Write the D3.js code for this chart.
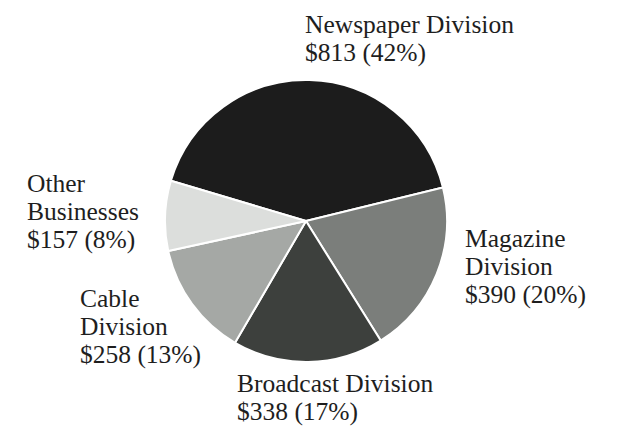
<!DOCTYPE html>
<html>
<head>
<meta charset="utf-8">
<script src="https://cdn.jsdelivr.net/npm/d3@7"></script>
<style>
  body { margin: 0; background: #fff; }
  svg { display: block; }
</style>
</head>
<body>
<svg width="618" height="427"></svg>
<script>
// division revenue, clockwise from the top-left
var divisions = ['Newspaper Division', 'Magazine Division', 'Broadcast Division', 'Cable Division', 'Other Businesses'];
var revenue = [813, 390, 338, 258, 157];
var percents = [42, 20, 17, 13, 8];
// how each label is broken into lines
var labelLines = [
    ['Newspaper Division'],
    ['Magazine', 'Division'],
    ['Broadcast Division'],
    ['Cable', 'Division'],
    ['Other', 'Businesses']
];
var sliceColors = ['#1c1c1c', '#7b7e7b', '#3d403d', '#a5a8a5', '#dcdedc'];

var svg = d3.select('svg');

var cx = 306, cy = 221, radius = 141;
var startAngle = -73.4 * Math.PI / 180;

var pie = d3.pie()
    .sort(null)
    .startAngle(startAngle)
    .endAngle(startAngle + 2 * Math.PI);

var arc = d3.arc()
    .innerRadius(0)
    .outerRadius(radius);

var pieG = svg.append('g')
    .attr('transform', 'translate(' + [cx, cy] + ')');

pieG.selectAll('path')
    .data(pie(revenue))
    .enter()
    .append('path')
    .attr('d', arc)
    .style('fill', function(d, i) { return sliceColors[i]; })
    .style('stroke', '#fff')
    .style('stroke-width', 2)
    .style('stroke-linejoin', 'round');

//label anchor (left x, first baseline) for each slice
var labelPos = [[305, 33], [465, 247], [237, 392], [80, 307], [27, 192]];
var lineGap = 28;

var labels = svg.selectAll('.label')
    .data(divisions)
    .enter()
    .append('text')
    .attr('class', 'label')
    .attr('x', function(d, i) { return labelPos[i][0]; })
    .attr('y', function(d, i) { return labelPos[i][1]; })
    .style('font-family', '"Liberation Serif", "DejaVu Serif", serif')
    .style('font-size', '25.5px')
    .style('fill', '#1e1e1e');

labels.each(function(d, i) {
    var lines = labelLines[i].concat(['$' + revenue[i] + ' (' + percents[i] + '%)']);
    d3.select(this).selectAll('tspan')
        .data(lines)
        .enter()
        .append('tspan')
        .attr('x', labelPos[i][0])
        .attr('y', function(t, j) { return labelPos[i][1] + j * lineGap; })
        .text(function(t) { return t; });
});
</script>
</body>
</html>
